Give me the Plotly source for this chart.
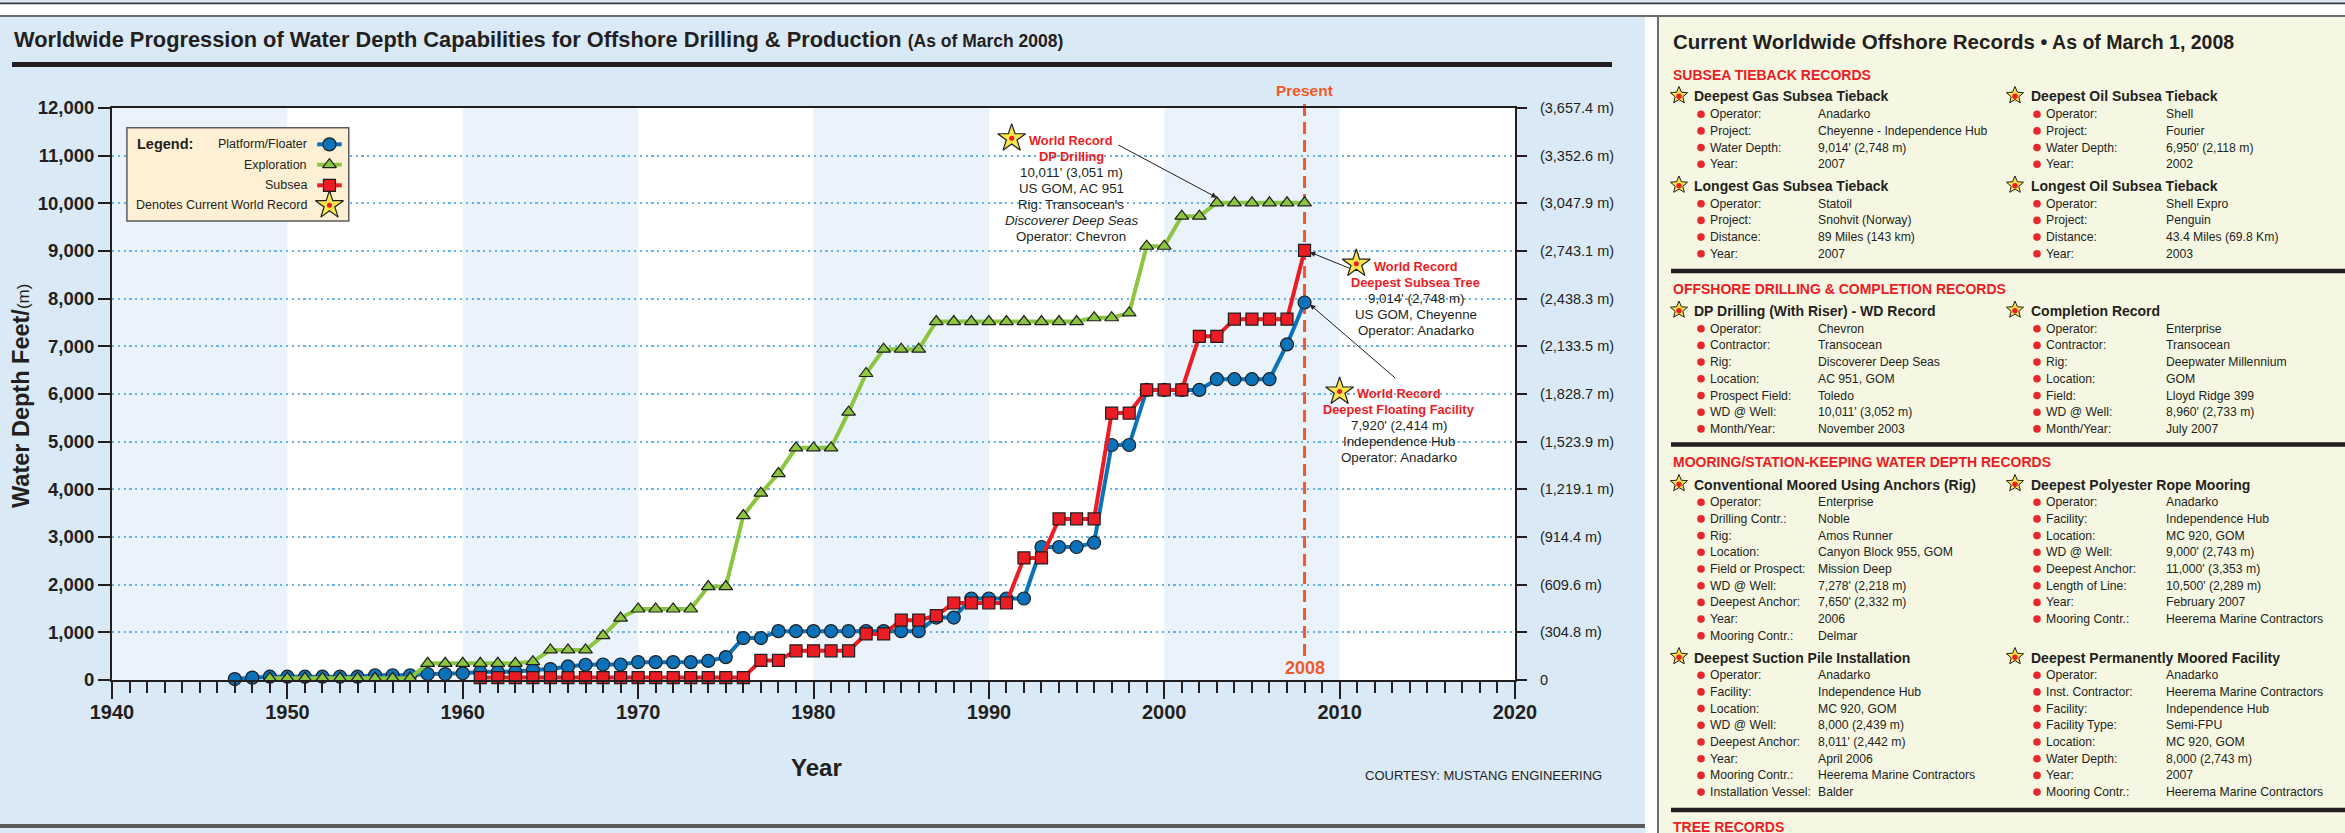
import math
import plotly.graph_objects as go

# ---------------------------------------------------------------- data
platform_years = list(range(1947, 2009))
platform_ft = [20, 50, 70, 70, 70, 70, 70, 70, 100, 100,
               100, 125, 125, 140, 170, 170, 175, 210, 230, 285,
               320, 325, 325, 375, 375, 375, 375, 400, 480, 880,
               880, 1025, 1025, 1025, 1025, 1025, 1025, 1025, 1025, 1025,
               1310, 1310, 1710, 1710, 1710, 1710, 2790, 2790, 2790, 2880,
               4930, 4930, 6085, 6085, 6085, 6085, 6310, 6310, 6310, 6310,
               7040, 7920]

exploration_years = list(range(1949, 2009))
exploration_ft = [35, 35, 35, 35, 35, 35, 35, 35, 35,
                  350, 350, 350, 350, 350, 350,
                  385, 630, 630, 630, 930, 1300,
                  1490, 1490, 1490, 1490, 1960, 1960,
                  3450, 3920, 4330, 4870, 4870, 4870,
                  5620, 6430, 6940, 6940, 6940,
                  7520, 7520, 7520, 7520, 7520, 7520, 7520, 7520, 7520,
                  7600, 7600, 7700, 9100, 9100, 9730, 9730,
                  10011, 10011, 10011, 10011, 10011, 10011]

subsea_years = list(range(1961, 2009))
subsea_ft = [50, 50, 50, 50, 50, 50, 50, 50, 50, 50, 50, 50, 50, 50, 50, 50,
             410, 410, 613, 613, 613, 613, 966, 966, 1255, 1255, 1350,
             1615, 1615, 1615, 1615, 2560, 2560, 3380, 3380, 3380,
             5600, 5600, 6085, 6085, 6085, 7210, 7210,
             7570, 7570, 7570, 7570, 9014]

x_tick_years = [1940, 1950, 1960, 1970, 1980, 1990, 2000, 2010, 2020]
y_tick_feet = [0, 1000, 2000, 3000, 4000, 5000, 6000, 7000, 8000, 9000, 10000, 11000, 12000]
y_tick_labels = ["0", "1,000", "2,000", "3,000", "4,000", "5,000", "6,000", "7,000",
                 "8,000", "9,000", "10,000", "11,000", "12,000"]
y_tick_meters = ["0", "(304.8 m)", "(609.6 m)", "(914.4 m)", "(1,219.1 m)", "(1,523.9 m)",
                 "(1,828.7 m)", "(2,133.5 m)", "(2,438.3 m)", "(2,743.1 m)", "(3,047.9 m)",
                 "(3,352.6 m)", "(3,657.4 m)"]

legend_labels = ["Platform/Floater", "Exploration", "Subsea", "Denotes Current World Record"]

dp_record_lines = [("World Record", "red"), ("DP Drilling", "red"), ("10,011' (3,051 m)", "k"),
                   ("US GOM, AC 951", "k"), ("Rig: Transocean's", "k"),
                   ("<i>Discoverer Deep Seas</i>", "k"), ("Operator: Chevron", "k")]
tree_record_lines = [("World Record", "red"), ("Deepest Subsea Tree", "red"),
                     ("9,014' (2,748 m)", "k"), ("US GOM, Cheyenne", "k"), ("Operator: Anadarko", "k")]
floating_record_lines = [("World Record", "red"), ("Deepest Floating Facility", "red"),
                         ("7,920' (2,414 m)", "k"), ("Independence Hub", "k"), ("Operator: Anadarko", "k")]

# record panel texts
sec_subsea = "SUBSEA TIEBACK RECORDS"
sec_drilling = "OFFSHORE DRILLING &amp; COMPLETION RECORDS"
sec_mooring = "MOORING/STATION-KEEPING WATER DEPTH RECORDS"
sec_tree = "TREE RECORDS"

rec_gas_deepest = ("Deepest Gas Subsea Tieback", [
    ("Operator:", "Anadarko"), ("Project:", "Cheyenne - Independence Hub"),
    ("Water Depth:", "9,014' (2,748 m)"), ("Year:", "2007")])
rec_oil_deepest = ("Deepest Oil Subsea Tieback", [
    ("Operator:", "Shell"), ("Project:", "Fourier"),
    ("Water Depth:", "6,950' (2,118 m)"), ("Year:", "2002")])
rec_gas_longest = ("Longest Gas Subsea Tieback", [
    ("Operator:", "Statoil"), ("Project:", "Snohvit (Norway)"),
    ("Distance:", "89 Miles (143 km)"), ("Year:", "2007")])
rec_oil_longest = ("Longest Oil Subsea Tieback", [
    ("Operator:", "Shell Expro"), ("Project:", "Penguin"),
    ("Distance:", "43.4 Miles (69.8 Km)"), ("Year:", "2003")])
rec_dp = ("DP Drilling (With Riser) - WD Record", [
    ("Operator:", "Chevron"), ("Contractor:", "Transocean"), ("Rig:", "Discoverer Deep Seas"),
    ("Location:", "AC 951, GOM"), ("Prospect Field:", "Toledo"),
    ("WD @ Well:", "10,011' (3,052 m)"), ("Month/Year:", "November 2003")])
rec_completion = ("Completion Record", [
    ("Operator:", "Enterprise"), ("Contractor:", "Transocean"), ("Rig:", "Deepwater Millennium"),
    ("Location:", "GOM"), ("Field:", "Lloyd Ridge 399"),
    ("WD @ Well:", "8,960' (2,733 m)"), ("Month/Year:", "July 2007")])
rec_anchors = ("Conventional Moored Using Anchors (Rig)", [
    ("Operator:", "Enterprise"), ("Drilling Contr.:", "Noble"), ("Rig:", "Amos Runner"),
    ("Location:", "Canyon Block 955, GOM"), ("Field or Prospect:", "Mission Deep"),
    ("WD @ Well:", "7,278' (2,218 m)"), ("Deepest Anchor:", "7,650' (2,332 m)"),
    ("Year:", "2006"), ("Mooring Contr.:", "Delmar")])
rec_polyester = ("Deepest Polyester Rope Mooring", [
    ("Operator:", "Anadarko"), ("Facility:", "Independence Hub"), ("Location:", "MC 920, GOM"),
    ("WD @ Well:", "9,000' (2,743 m)"), ("Deepest Anchor:", "11,000' (3,353 m)"),
    ("Length of Line:", "10,500' (2,289 m)"), ("Year:", "February 2007"),
    ("Mooring Contr.:", "Heerema Marine Contractors")])
rec_suction = ("Deepest Suction Pile Installation", [
    ("Operator:", "Anadarko"), ("Facility:", "Independence Hub"), ("Location:", "MC 920, GOM"),
    ("WD @ Well:", "8,000 (2,439 m)"), ("Deepest Anchor:", "8,011' (2,442 m)"),
    ("Year:", "April 2006"), ("Mooring Contr.:", "Heerema Marine Contractors"),
    ("Installation Vessel:", "Balder")])
rec_permanent = ("Deepest Permanently Moored Facility", [
    ("Operator:", "Anadarko"), ("Inst. Contractor:", "Heerema Marine Contractors"),
    ("Facility:", "Independence Hub"), ("Facility Type:", "Semi-FPU"),
    ("Location:", "MC 920, GOM"), ("Water Depth:", "8,000 (2,743 m)"),
    ("Year:", "2007"), ("Mooring Contr.:", "Heerema Marine Contractors")])

# ---------------------------------------------------------------- styling / layout helpers
W, H = 2345, 833
PL, PR, PT, PB = 112, 1515, 108, 680

FONT = "Liberation Sans, Arial, Helvetica, sans-serif"
DARK = "#231f20"
BLUE = "#0b72b9"
GREEN = "#8cc63f"
RED = "#ec1c24"
ORANGE = "#f15a29"
GRID = "#67b2e6"
PANEL = "#dae9f6"
BAND = "#eaf3fb"
CREAM = "#f6f7e2"
OUT = "#1e1e1e"
STAR_FILL = "#fde64b"


def pxx(x):
    return (x - PL) / (PR - PL)


def pyy(y):
    return (PB - y) / (PB - PT)


fig = go.Figure()

# main series
fig.add_trace(go.Scatter(x=platform_years, y=platform_ft, mode="lines+markers",
                         line=dict(color=BLUE, width=4),
                         marker=dict(symbol="circle", size=13, color=BLUE, line=dict(color=OUT, width=1.2)),
                         hoverinfo="skip", cliponaxis=False))
fig.add_trace(go.Scatter(x=exploration_years, y=exploration_ft, mode="lines+markers",
                         line=dict(color=GREEN, width=4),
                         marker=dict(symbol="triangle-up", size=12, color=GREEN, line=dict(color=OUT, width=1.2)),
                         hoverinfo="skip", cliponaxis=False))
fig.add_trace(go.Scatter(x=subsea_years, y=subsea_ft, mode="lines+markers",
                         line=dict(color=RED, width=4),
                         marker=dict(symbol="square", size=12, color=RED, line=dict(color=OUT, width=1.2)),
                         hoverinfo="skip", cliponaxis=False))

# dummy trace for right (metre) axis
fig.add_trace(go.Scatter(x=[2000], y=[0], yaxis="y2", mode="markers", marker=dict(opacity=0),
                         hoverinfo="skip"))

# ---------------- legend (inside plot, data coordinates)
LEG_X0, LEG_X1 = 1940.85, 1953.5
LEG_Y0, LEG_Y1 = 9630, 11585
leg_rows = [11237, 10811, 10378, 9960]
leg_lab_x, leg_mark_x = 1951.25, 1952.4
leg_seg = [1951.7, 1953.1]
for (col, sym, sz), yy in zip([(BLUE, "circle", 13), (GREEN, "triangle-up", 12), (RED, "square", 12)], leg_rows[:3]):
    fig.add_trace(go.Scatter(x=leg_seg, y=[yy, yy], mode="lines", line=dict(color=col, width=4),
                             hoverinfo="skip", cliponaxis=False))
    fig.add_trace(go.Scatter(x=[leg_mark_x], y=[yy], mode="markers",
                             marker=dict(symbol=sym, size=sz, color=col, line=dict(color=OUT, width=1.2)),
                             hoverinfo="skip", cliponaxis=False))

# stars inside the chart (legend + world records)
star_x = [leg_mark_x, 1991.3, 2010.95, 2010.0]
star_y = [leg_rows[3], 11365, 8733, 6052]
fig.add_trace(go.Scatter(x=star_x, y=star_y, mode="markers",
                         marker=dict(symbol="star", size=21, color=STAR_FILL, line=dict(color=OUT, width=1.2)),
                         hoverinfo="skip", cliponaxis=False))
fig.add_trace(go.Scatter(x=star_x, y=star_y, mode="markers",
                         marker=dict(symbol="circle", size=5, color=RED),
                         hoverinfo="skip", cliponaxis=False))

annotations = []
shapes = []


def prect(x0, y0, x1, y1, fill, line=None, lw=0, layer="below"):
    shapes.append(dict(type="rect", xref="paper", yref="paper", x0=pxx(x0), x1=pxx(x1),
                       y0=pyy(y1), y1=pyy(y0), fillcolor=fill,
                       line=dict(color=line or fill, width=lw), layer=layer))


def pcircle(cx, cy, r, fill):
    shapes.append(dict(type="circle", xref="paper", yref="paper",
                       x0=pxx(cx - r), x1=pxx(cx + r), y0=pyy(cy + r), y1=pyy(cy - r),
                       fillcolor=fill, line=dict(width=0), layer="above"))


def pstar(cx, cy, R):
    pts = []
    for k in range(10):
        ang = -math.pi / 2 + k * math.pi / 5
        rr = R if k % 2 == 0 else R * 0.45
        pts.append((pxx(cx + rr * math.cos(ang)), pyy(cy + rr * math.sin(ang))))
    path = "M " + " L ".join(f"{a:.6f},{b:.6f}" for a, b in pts) + " Z"
    shapes.append(dict(type="path", xref="paper", yref="paper", path=path,
                       fillcolor=STAR_FILL, line=dict(color=OUT, width=1), layer="above"))
    pcircle(cx, cy + 0.8, R * 0.3, RED)


def ptext(x, y, text, size, color=DARK, bold=False, xanchor="left"):
    annotations.append(dict(x=pxx(x), y=pyy(y), xref="paper", yref="paper", text=text,
                            showarrow=False, xanchor=xanchor, yanchor="middle",
                            font=dict(family=FONT, size=size, color=color,
                                      weight="bold" if bold else "normal")))


# ---------------- page decoration shapes
prect(0, 2.5, W, 4.5, "#3b3b3b")
prect(0, 4.5, W, 15, "white")
prect(0, 15, W, 17, "#6d6e70")
prect(12, 62, 1612, 67, DARK)
prect(0, 824, 1645, 828, "#5a5a5a")
prect(1645, 17, W + 5, H + 5, "white")
prect(1658, 16, W + 10, H + 10, CREAM, line="#6d6e70", lw=2)
for yy in [271, 444.5, 810]:
    prect(1671, yy - 2.2, W + 5, yy + 2.2, DARK)

# decade bands
for x0 in [1940, 1960, 1980, 2000]:
    shapes.append(dict(type="rect", xref="x", yref="paper", x0=x0, x1=x0 + 10, y0=0, y1=1,
                       fillcolor=BAND, line=dict(width=0), layer="below"))

# legend box
shapes.append(dict(type="rect", xref="x", yref="y", x0=LEG_X0, x1=LEG_X1, y0=LEG_Y0, y1=LEG_Y1,
                   fillcolor="#fdf0d4", line=dict(color="#5a5a5a", width=1.5), layer="between"))

# "present" dashed line
shapes.append(dict(type="line", xref="x", yref="paper", x0=2008, x1=2008, y0=pyy(656), y1=pyy(100),
                   line=dict(color=ORANGE, width=3, dash="12px,6px"), layer="between"))

# ---------------- record panel
STAR_X = [1679, 2015]
HEAD_X = [1692, 2029]
BUL_X = [1701, 2037]
LAB_X = [1708, 2044]
VAL_X = [1816, 2164]
blocks = [(rec_gas_deepest, 0, 96.5), (rec_oil_deepest, 1, 96.5),
          (rec_gas_longest, 0, 186), (rec_oil_longest, 1, 186),
          (rec_dp, 0, 311), (rec_completion, 1, 311),
          (rec_anchors, 0, 484.5), (rec_polyester, 1, 484.5),
          (rec_suction, 0, 657.5), (rec_permanent, 1, 657.5)]

for (heading, rows), col, hy in blocks:
    pstar(STAR_X[col], hy - 1, 9)
    ptext(HEAD_X[col], hy, heading, 14, bold=True)
    for i, (lab, val) in enumerate(rows):
        ry = hy + 17.7 + 16.7 * i
        pcircle(BUL_X[col], ry, 3.8, "#e8262b")
        ptext(LAB_X[col], ry, lab, 12.2)
        ptext(VAL_X[col], ry, val, 12.2)

annotations.append(dict(x=pxx(1671), y=pyy(42), xref="paper", yref="paper", showarrow=False,
                        xanchor="left", yanchor="middle",
                        text="Current Worldwide Offshore Records <span style='font-size:19.5px'>• As of March 1, 2008</span>",
                        font=dict(family=FONT, size=20.5, color=DARK, weight="bold")))
for txt, yy in [(sec_subsea, 74.5), (sec_drilling, 288.5), (sec_mooring, 462), (sec_tree, 827)]:
    ptext(1671, yy, txt, 14, color=RED, bold=True)

# ---------------- chart text
annotations.append(dict(x=pxx(12), y=pyy(40), xref="paper", yref="paper", showarrow=False,
                        xanchor="left", yanchor="middle",
                        text="Worldwide Progression of Water Depth Capabilities for Offshore Drilling &amp; Production "
                             "<span style='font-size:17.5px'>(As of March 2008)</span>",
                        font=dict(family=FONT, size=21.8, color=DARK, weight="bold")))
annotations.append(dict(x=pxx(21), y=pyy(396), xref="paper", yref="paper", showarrow=False,
                        textangle=-90, xanchor="center", yanchor="middle",
                        text="Water Depth Feet/<span style='font-size:17px;font-weight:normal'>(m)</span>",
                        font=dict(family=FONT, size=23.5, color=DARK, weight="bold")))
annotations.append(dict(x=pxx(816), y=pyy(767), xref="paper", yref="paper", showarrow=False,
                        xanchor="center", yanchor="middle", text="Year",
                        font=dict(family=FONT, size=24, color=DARK, weight="bold")))
annotations.append(dict(x=pxx(1604), y=pyy(775), xref="paper", yref="paper", showarrow=False,
                        xanchor="right", yanchor="middle", text="COURTESY: MUSTANG ENGINEERING",
                        font=dict(family=FONT, size=13, color=DARK)))
annotations.append(dict(x=2008, y=pyy(90), xref="x", yref="paper", showarrow=False,
                        xanchor="center", yanchor="middle", text="Present",
                        font=dict(family=FONT, size=15.5, color=ORANGE, weight="bold")))
annotations.append(dict(x=2008, y=pyy(668), xref="x", yref="paper", showarrow=False,
                        xanchor="center", yanchor="middle", text="2008",
                        font=dict(family=FONT, size=18, color=ORANGE, weight="bold")))

# legend texts
annotations.append(dict(x=1941.3, y=leg_rows[0], xref="x", yref="y", showarrow=False,
                        xanchor="left", yanchor="middle", text="Legend:",
                        font=dict(family=FONT, size=14.5, color=DARK, weight="bold")))
for lab, yy in zip(legend_labels, leg_rows):
    annotations.append(dict(x=leg_lab_x, y=yy, xref="x", yref="y", showarrow=False,
                            xanchor="right", yanchor="middle", text=lab,
                            font=dict(family=FONT, size=12.5, color=DARK)))


def record_block(xc, ytop, lines):
    for i, (txt, kind) in enumerate(lines):
        red = kind == "red"
        annotations.append(dict(x=xc, y=ytop - i * 336, xref="x", yref="y", showarrow=False,
                                xanchor="center", yanchor="middle", text=txt,
                                font=dict(family=FONT, size=12.8 if red else 13.3,
                                          color=RED if red else DARK,
                                          weight="bold" if red else "normal")))


record_block(1994.7, 11323, dp_record_lines)
record_block(2014.35, 8677, tree_record_lines)
record_block(2013.4, 6017, floating_record_lines)

# pointer arrows
for (hx, hy), (tx, ty) in [((2003.0, 10120), (1997.3, 11240)),
                           ((2008.3, 8976), (2010.65, 8625)),
                           ((2008.3, 7880), (2013.25, 6310))]:
    annotations.append(dict(x=hx, y=hy, ax=tx, ay=ty, xref="x", yref="y", axref="x", ayref="y",
                            text="", showarrow=True, arrowhead=2, arrowsize=1.1, arrowwidth=1,
                            arrowcolor=DARK, standoff=0))

# ---------------------------------------------------------------- layout
fig.update_layout(
    width=W, height=H,
    margin=dict(l=PL, r=W - PR, t=PT, b=H - PB, pad=0),
    paper_bgcolor=PANEL, plot_bgcolor="white",
    showlegend=False, hovermode=False,
    xaxis=dict(range=[1940, 2020], tickvals=x_tick_years, ticktext=[str(v) for v in x_tick_years],
               ticks="outside", ticklen=17, tickwidth=2, tickcolor=DARK,
               showline=True, linecolor=DARK, linewidth=2, mirror=True,
               showgrid=False, zeroline=False,
               tickfont=dict(family=FONT, size=20, color=DARK, weight="bold"), ticklabelstandoff=-4,
               minor=dict(dtick=1, tick0=1940, ticks="outside", ticklen=11, tickwidth=1.5,
                          tickcolor=DARK, showgrid=False)),
    yaxis=dict(range=[0, 12000], tickvals=y_tick_feet, ticktext=y_tick_labels,
               ticks="outside", ticklen=12, tickwidth=2, tickcolor=DARK,
               showline=True, linecolor=DARK, linewidth=2, mirror=True,
               showgrid=True, gridcolor=GRID, gridwidth=2.2, griddash="2.2px,3.6px",
               zeroline=False, tickfont=dict(family=FONT, size=18.5, color=DARK, weight="bold")),
    yaxis2=dict(overlaying="y", side="right", anchor="x", range=[0, 12000],
                tickvals=y_tick_feet, ticktext=y_tick_meters,
                ticks="outside", ticklen=10, tickwidth=2, tickcolor=DARK,
                showline=True, linecolor=DARK, linewidth=2, showgrid=False, zeroline=False,
                tickfont=dict(family=FONT, size=14.5, color=DARK), ticklabelstandoff=10),
    shapes=shapes,
    annotations=annotations,
)

fig.write_html("out.html", config={"displayModeBar": False},
               post_script="document.body.style.margin='0px';document.body.style.padding='0px';")
